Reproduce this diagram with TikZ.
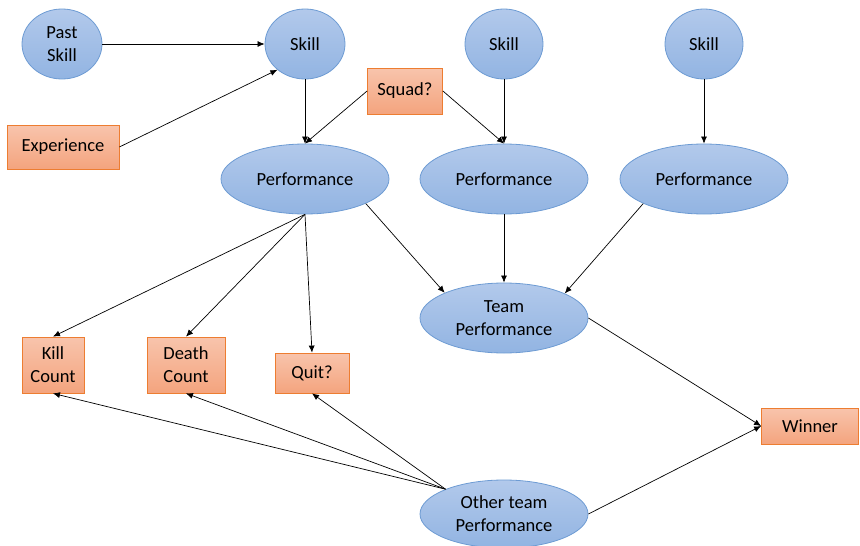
\documentclass[tikz,border=0pt]{standalone}
\usepackage{fontspec}
\setmainfont{Carlito}
\usetikzlibrary{shapes.geometric,arrows.meta}
\definecolor{blueline}{RGB}{109,155,211}
\definecolor{bluetop}{RGB}{178,201,235}
\definecolor{bluebot}{RGB}{146,180,226}
\definecolor{orangeline}{RGB}{237,125,49}
\definecolor{orangetop}{RGB}{248,196,172}
\definecolor{orangebot}{RGB}{244,164,126}

\begin{document}
\begin{tikzpicture}[x=1pt,y=-1pt,
	font=\fontsize{18.5}{23}\selectfont,
	blob/.style={ellipse, draw=blueline, line width=0.8pt, top color=bluetop, bottom color=bluebot, inner sep=0pt, align=center},
	box/.style={rectangle, draw=orangeline, line width=0.8pt, top color=orangetop, bottom color=orangebot, inner sep=0pt, align=center},
	arr/.style={-{Latex[length=7pt,width=6pt]}, line width=0.7pt}]
		%%%%% START %%%%%
		\useasboundingbox (0,0) rectangle (860,546);
		
		\node[blob, minimum width=80, minimum height=70] (pastskill) at (62,44) {Past\\Skill};
		\node[blob, minimum width=80, minimum height=70] (skillA) at (305,44) {Skill};
		\node[blob, minimum width=78, minimum height=70] (skillB) at (504,44) {Skill};
		\node[blob, minimum width=78, minimum height=70] (skillC) at (704,44) {Skill};
		
		\node[box, minimum width=112, minimum height=44] (experience) at (63,147) {Experience};
		\node[box, minimum width=75, minimum height=46] (squad) at (405,91) {Squad?};
		
		\node[blob, minimum width=168, minimum height=70] (perfA) at (305,179) {Performance};
		\node[blob, minimum width=168, minimum height=70] (perfB) at (504,179) {Performance};
		\node[blob, minimum width=168, minimum height=70] (perfC) at (704,179) {Performance};
		
		\node[blob, minimum width=168, minimum height=70] (teamperf) at (504,318) {Team\\Performance};
		
		\node[box, minimum width=62, minimum height=56] (kill) at (53,365) {Kill\\Count};
		\node[box, minimum width=78, minimum height=56] (death) at (186,365) {Death\\Count};
		\node[box, minimum width=74, minimum height=40] (quit) at (312,373) {Quit?};
		\node[box, minimum width=97, minimum height=36] (winner) at (810,426) {Winner};
		
		\node[blob, minimum width=168, minimum height=68] (otherperf) at (504,514) {Other team\\Performance};
		
		
		\draw[arr] (pastskill) -- (skillA);
		\draw[arr] (experience.east) -- (skillA.223);
		\draw[arr] (skillA) -- (perfA);
		\draw[arr] (squad.west) -- (perfA.north);
		\draw[arr] (squad.east) -- (perfB.north);
		\draw[arr] (skillB) -- (perfB);
		\draw[arr] (skillC) -- (perfC);
		
		\draw[arr] (perfA.-22) -- (teamperf.157);
		\draw[arr] (perfB) -- (teamperf);
		\draw[arr] (perfC.202) -- (teamperf.22);
		
		\draw[arr] (perfA.south) -- (kill.north);
		\draw[arr] (perfA.south) -- (death.north);
		\draw[arr] (perfA.south) -- (quit.north);
		
		\draw[arr] (teamperf.east) -- (winner.west);
		\draw[arr] (otherperf.east) -- (winner.west);
		
		\draw[arr] (otherperf.157) -- (kill.south);
		\draw[arr] (otherperf.157) -- (death.south);
		\draw[arr] (otherperf.157) -- (quit.south);
		
		%%%%% END %%%%%
	\end{tikzpicture}
\end{document}
